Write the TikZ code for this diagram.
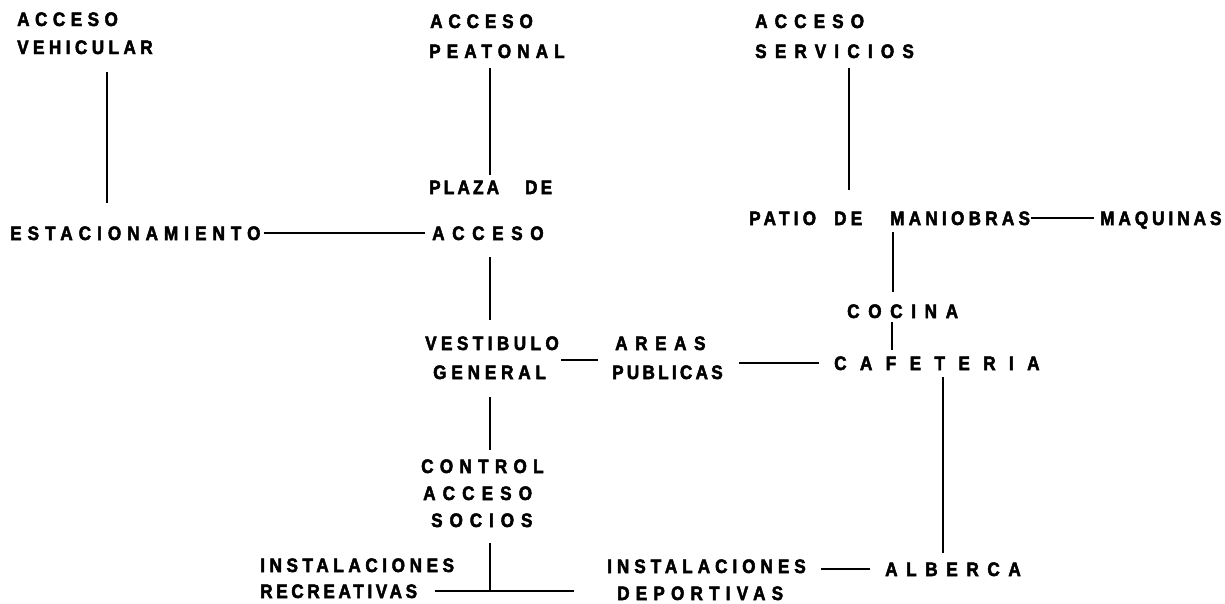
\documentclass[tikz,border=0pt]{standalone}
\usepackage{fontspec}
\setmainfont{Liberation Sans}[FakeStretch=0.88, BoldFeatures={FakeBold=2.5}]
\newcommand\lblfont{\fontsize{19.5}{21}\selectfont\bfseries}
\tikzset{
  lab/.style={inner sep=0pt, anchor=west, text height=14pt, text depth=0pt,
    font={\lblfont\addfontfeature{LetterSpace=#1}}},
  link/.style={line width=2.2pt}
}
\begin{document}
\begin{tikzpicture}[x=1pt,y=-1pt]
  \useasboundingbox[fill=white] (0,0) rectangle (1225,603);

  \node[lab=28] (vhc1) at (17,19)    {ACCESO};
  \node[lab=22.7] (vhc2) at (17,47)  {VEHICULAR};
  \node[lab=30] (ptn1) at (430,21)   {ACCESO};
  \node[lab=31.3] (ptn2) at (429,51) {PEATONAL};
  \node[lab=36.4] (srv1) at (755,21) {ACCESO};
  \node[lab=42] (srv2) at (755,51)   {SERVICIOS};

  \node[lab=16.3] (plz) at (429,187) {PLAZA\hspace{26pt}DE};
  \node[lab=39] (acc) at (432,233)   {ACCESO};
  \node[lab=30.8] (est) at (10,233)  {ESTACIONAMIENTO};
  \node[lab=21.8] (pat) at (749,218) {PATIO\hspace{18pt}DE\hspace{28pt}MANIOBRAS};
  \node[lab=20.4] (maq) at (1100,218) {MAQUINAS};

  \node[lab=44.3] (coc) at (847,311) {COCINA};
  \node[lab=68.7] (caf) at (834,363) {CAFETERIA};
  \node[lab=22.7] (vst1) at (425,343) {VESTIBULO};
  \node[lab=24.7] (vst2) at (433,372) {GENERAL};
  \node[lab=38.8] (are1) at (615,343) {AREAS};
  \node[lab=16.7] (are2) at (612,372) {PUBLICAS};

  \node[lab=32.1] (ctl1) at (421,466) {CONTROL};
  \node[lab=36.4] (ctl2) at (423,493) {ACCESO};
  \node[lab=35.4] (ctl3) at (431,520) {SOCIOS};

  \node[lab=23.5] (rec1) at (260,565) {INSTALACIONES};
  \node[lab=18.7] (rec2) at (260,591) {RECREATIVAS};
  \node[lab=25.5] (dep1) at (607,566) {INSTALACIONES};
  \node[lab=31.7] (dep2) at (617,593) {DEPORTIVAS};
  \node[lab=44.2] (alb) at (885,569)  {ALBERCA};

  \draw[link, shorten <=18pt, shorten >=23pt] (vhc2.south -| 107,0) -- (est.north -| 107,0);
  \draw[link, shorten <=10pt, shorten >=5pt] (ptn2.south -| 490,0) -- (plz.north -| 490,0);
  \draw[link, shorten <=3pt, shorten >=7pt] (est.east) -- (acc.west);
  \draw[link, shorten <=17pt, shorten >=16pt] (acc.south -| 490,0) -- (vst1.north -| 490,0);
  \draw[link, shorten <=2pt, shorten >=17pt] ([yshift=-17pt]vst1.east) -- ([yshift=-17pt]are1.west);
  \draw[link, shorten <=16pt, shorten >=15pt] (are2.east |- caf.west) -- (caf.west);

  \draw[link, shorten <=10pt, shorten >=21pt] (srv2.south -| 849,0) -- (pat.north -| 849,0);
  \draw[link, shorten <=1pt, shorten >=6pt] (pat.east) -- (maq.west);
  \draw[link, shorten <=7pt, shorten >=12pt] (pat.south -| 893,0) -- (coc.north -| 893,0);
  \draw[link, shorten <=4pt, shorten >=6pt] (coc.south -| 892,0) -- (caf.north -| 892,0);
  \draw[link, shorten <=7pt, shorten >=9pt] (caf.south -| 943,0) -- (alb.north -| 943,0);
  \draw[link, shorten <=15pt, shorten >=15pt] (alb.west) -- (dep1.east |- alb.west);

  \draw[link, shorten <=18pt, shorten >=9pt] (vst2.south -| 490,0) -- (ctl1.north -| 490,0);
  \draw[link, shorten <=16pt] (ctl3.south -| 490,0) -- (rec2.east -| 490,0);
  \draw[link, shorten <=18pt, shorten >=43pt] (rec2.east) -- (dep2.west |- rec2.east);
\end{tikzpicture}
\end{document}
